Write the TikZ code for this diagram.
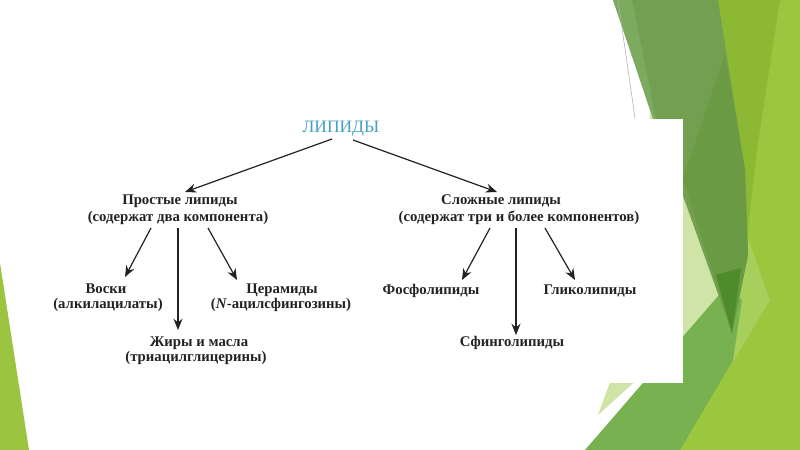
\documentclass[tikz,border=0pt]{standalone}
\usepackage{fontspec}
\setmainfont{Liberation Serif}
\usetikzlibrary{arrows.meta}
\definecolor{txt}{RGB}{34,34,34}
\definecolor{headc}{RGB}{70,160,196}
\definecolor{gYel}{RGB}{140,184,52}
\definecolor{gLime}{RGB}{154,199,62}
\definecolor{gLLime}{RGB}{166,207,92}
\definecolor{gPale}{RGB}{208,228,168}
\definecolor{gMed}{RGB}{120,177,80}
\definecolor{gDark}{RGB}{114,160,80}
\definecolor{gDark2}{RGB}{106,154,68}
\definecolor{gDarkest}{RGB}{78,139,42}
\definecolor{gStrip}{RGB}{124,170,94}
\definecolor{gLeft}{RGB}{155,197,64}
\begin{document}
\begin{tikzpicture}[x=0.25mm,y=-0.25mm,
  lbl/.style={anchor=base, inner sep=0pt, font=\fontsize{10.5}{12}\selectfont\bfseries, text=txt},
  headlbl/.style={anchor=base, inner sep=0pt, font=\fontsize{12.4}{14}\selectfont, text=headc},
  arr/.style={draw=txt, line width=0.85pt, -{Stealth[length=8pt,width=6.4pt]}}]
\useasboundingbox (0,0) rectangle (800,450);
\fill[white] (0,0) rectangle (800,450);
% background facets
\fill[gYel] (700,0) -- (800,0) -- (800,450) -- (620,450) -- (700,300) -- cycle;
\fill[gLime] (780,0) -- (800,0) -- (800,450) -- (680,450) -- (733,360) -- (757,150) -- cycle;
\fill[gLLime] (745,230) -- (770,300) -- (733,362) -- (737,300) -- cycle;
\fill[gPale] (650,112) -- (725,300) -- (598,415) -- (640,300) -- cycle;
\fill[gMed] (585,450) -- (725,288) -- (742,300) -- (733,360) -- (680,450) -- cycle;
\fill[gDark] (613,0) -- (718,0) -- (745,170) -- (748,255) -- (732,333) -- cycle;
\fill[gDark2] (725,55) -- (745,170) -- (748,255) -- (732,333) -- (683,178) -- cycle;
\fill[gDarkest] (716,275) -- (741,268) -- (732,333) -- cycle;
\fill[gStrip] (613,0) -- (632,0) -- (656,119) -- (653,119) -- cycle;
\draw[gray!60, line width=0.4pt] (618,0) -- (635,118);
\fill[gLeft] (0,263) -- (29,450) -- (0,450) -- cycle;
% white picture box
\fill[white] (40,119) rectangle (683,383);
% labels
\node[headlbl] (lip) at (341,132) {ЛИПИДЫ};
\node[lbl] (pr) at (180,205) {Простые липиды};
\node[lbl] (prs) at (178,221) {(содержат два компонента)};
\node[lbl] (sl) at (501,205) {Сложные липиды};
\node[lbl] (sls) at (519,221) {(содержат три и более компонентов)};
\node[lbl] (vo) at (106,293) {Воски};
\node[lbl] (vos) at (108,308) {(алкилацилаты)};
\node[lbl] (ce) at (282,293) {Церамиды};
\node[lbl] (ces) at (281,308) {(\textit{N}-ацилсфингозины)};
\node[lbl] (zh) at (199,346) {Жиры и масла};
\node[lbl] (zhs) at (196,361) {(триацилглицерины)};
\node[lbl] (fo) at (431,294) {Фосфолипиды};
\node[lbl] (gl) at (590,294) {Гликолипиды};
\node[lbl] (sf) at (512,346.5) {Сфинголипиды};
% connectors
\draw[arr] ([shift={(-9,7)}]lip.base) -- ([shift={(5,-13)}]pr.base);
\draw[arr] ([shift={(12,8)}]lip.base) -- ([shift={(-4,-13)}]sl.base);
\draw[arr] ([shift={(-27,7)}]prs.base) -- ([shift={(19,-16)}]vo.base);
\draw[arr] ([shift={(0,7)}]prs.base) -- ([shift={(-21,-16)}]zh.base);
\draw[arr] ([shift={(30,7)}]prs.base) -- ([shift={(-45,-13)}]ce.base);
\draw[arr] ([shift={(-29,7)}]sls.base) -- ([shift={(31,-14)}]fo.base);
\draw[arr] ([shift={(-3,7)}]sls.base) -- ([shift={(4,-11.5)}]sf.base);
\draw[arr] ([shift={(26,7)}]sls.base) -- ([shift={(-15,-14)}]gl.base);
\end{tikzpicture}
\end{document}
